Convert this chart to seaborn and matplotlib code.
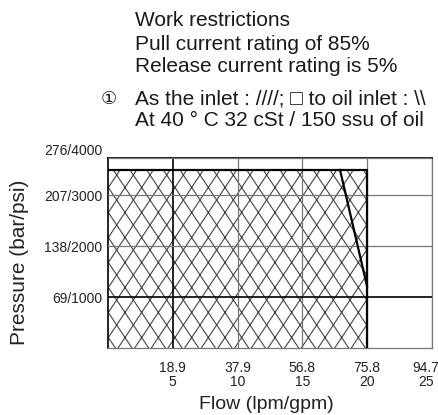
import numpy as np
import matplotlib
matplotlib.use('Agg')
import matplotlib.pyplot as plt
import matplotlib.hatch as mhatch
from matplotlib.path import Path
from matplotlib.transforms import ScaledTranslation
import seaborn as sns

# operating envelope (flow in gpm, pressure in psi)
region_x = [0, 20]
region_top = 3500
outline_x = [0, 20, 20]
outline_y = [3500, 3500, 0]
slant_x = [17.9, 20.0]
slant_y = [3500, 1200]

gpm_ticks = [5, 10, 15, 20, 25]
lpm_labels = ['18.9', '37.9', '56.8', '75.8', '94.7']
psi_ticks = [1000, 2000, 3000, 3730]
bar_labels = ['69', '138', '207', '276']
psi_labels = ['1000', '2000', '3000', '4000']

header = ['Work restrictions',
          'Pull current rating of 85%',
          'Release current rating is 5%',
          'As the inlet : ////; \u25a1 to oil inlet : \\\\',
          'At 40 \u00b0 C 32 cSt / 150 ssu of oil']
header_y = [20, 45, 67, 99, 121]


class SteepCross(mhatch.HatchPatternBase):
    # cross hatch with tall diamonds like the scanned datasheet
    def __init__(self, hatch, density):
        self.n = 11 if 'x' in hatch else 0
        self.num_vertices = self.n * 4

    def set_vertices_and_codes(self, vertices, codes):
        c = np.arange(-4, 7) / 6
        n = self.n
        vertices[0:2 * n:2] = np.column_stack([c, np.zeros(n)])
        vertices[1:2 * n:2] = np.column_stack([c + 4 / 6, np.ones(n)])
        vertices[2 * n::2] = np.column_stack([c + 4 / 6, np.zeros(n)])
        vertices[2 * n + 1::2] = np.column_stack([c, np.ones(n)])
        codes[0::2] = Path.MOVETO
        codes[1::2] = Path.LINETO


mhatch._hatch_types[:] = [SteepCross]

sns.set_theme(style='white')
plt.rcParams['font.family'] = ['Liberation Sans', 'DejaVu Sans', 'Noto Sans CJK JP']
plt.rcParams['hatch.linewidth'] = 0.8
plt.rcParams['hatch.color'] = '#444444'

W, H = 439, 415
fig = plt.figure(figsize=(W / 100, H / 100), dpi=100)
ax = fig.add_axes([108 / W, 1 - 348 / H, 324 / W, 190 / H])

ax.fill_between(region_x, 0, region_top, facecolor='white',
                edgecolor='#444444', hatch='x', linewidth=0, zorder=1)
sns.lineplot(x=outline_x, y=outline_y, sort=False, estimator=None,
             color='black', lw=1.6, ax=ax, zorder=3)
sns.lineplot(x=slant_x, y=slant_y, sort=False, estimator=None,
             color='black', lw=1.6, ax=ax, zorder=3)

ax.set_xlim(0, 25)
ax.set_ylim(0, psi_ticks[-1])
ax.set_xticks(gpm_ticks, labels=[f'{l}\n{g}' for l, g in zip(lpm_labels, gpm_ticks)])
ax.set_yticks(psi_ticks, labels=[f'{b}/{p}' for b, p in zip(bar_labels, psi_labels)])
ax.tick_params(axis='x', length=0, pad=9, labelsize=10, labelcolor='#222222')
ax.tick_params(axis='y', length=0, pad=4, labelsize=10, labelcolor='#222222')
for t in ax.get_xticklabels():
    t.set_linespacing(1.0)
last = ax.get_xticklabels()[-1]
last.set_transform(last.get_transform() + ScaledTranslation(-0.06, 0, fig.dpi_scale_trans))
ax.get_yticklabels()[-1].set_va('bottom')

ax.grid(True, color='#777777', lw=0.9, zorder=2)
ax.set_axisbelow(False)
ax.get_xgridlines()[0].set_color('black')
ax.get_xgridlines()[0].set_linewidth(1.2)
ax.get_ygridlines()[0].set_color('black')
ax.get_ygridlines()[0].set_linewidth(1.2)
for side in ['left', 'top']:
    ax.spines[side].set_color('black')
    ax.spines[side].set_linewidth(1.2)
for side in ['right', 'bottom']:
    ax.spines[side].set_color('#777777')
    ax.spines[side].set_linewidth(0.9)

ax.set_xlabel('Flow (lpm/gpm)', fontsize=14, color='#222222')
ax.set_ylabel('Pressure (bar/psi)', fontsize=15, color='#222222')
ax.xaxis.set_label_coords(0.488, -0.25)
ax.yaxis.set_label_coords(-0.245, 0.45)

for txt, yy in zip(header, header_y):
    fig.text(135 / W, 1 - yy / H, txt, fontsize=15, va='center', ha='left', color='#1a1a1a')
fig.text(101 / W, 1 - header_y[3] / H, '\u2460', fontsize=13, va='center', ha='left', color='#1a1a1a')

fig.savefig('out.png', dpi=100)
